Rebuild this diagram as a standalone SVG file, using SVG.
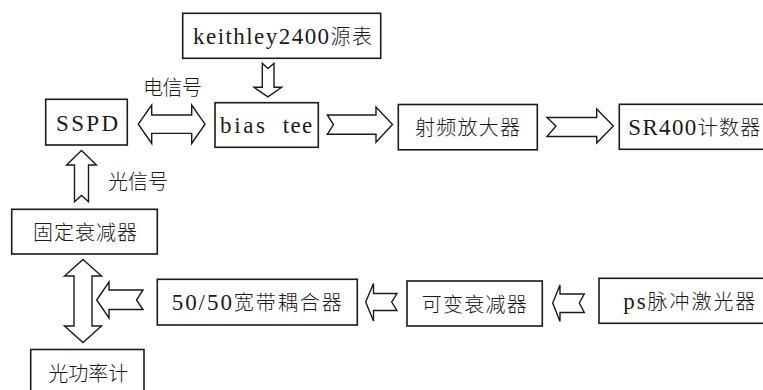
<svg xmlns="http://www.w3.org/2000/svg" width="763" height="390" viewBox="0 0 763 390">
<style>
.box{fill:#fff;stroke:#1a1a1a;stroke-width:1.6}
.arr{fill:#fff;stroke:#1a1a1a;stroke-width:1.4;stroke-linejoin:miter}
text{fill:#1a1a1a}
.lat{font-family:"Liberation Serif",serif;font-size:23px}
.cjk{font-family:"Noto Sans CJK SC","Noto Sans",sans-serif;font-size:20px;font-weight:300}
</style>
<rect width="763" height="390" fill="#fff"/>
<g id="connectors">
<polygon class="arr" points="138.3,124.2 151.7,105 151.7,115 191.7,115 191.7,105 205,124.2 191.7,143.4 191.7,133.4 151.7,133.4 151.7,143.4"/>
<polygon class="arr" points="262.3,63.3 268,68.5 274,63.3 274,87.3 281.7,87.3 267.9,96.9 254,87.3 262.3,87.3"/>
<polygon class="arr" points="327.3,115 376,115 376,107 392.5,124.6 376,142.3 376,134.3 327.3,134.3 333.5,124.6"/>
<polygon class="arr" points="547,117.5 596.7,117.5 596.7,109 613.3,126 596.7,143 596.7,136.5 547,136.5 556,126"/>
<polygon class="arr" points="81.5,150.5 96.5,165 88.5,165 88.5,201.7 81.5,195.5 74.5,201.7 74.5,165 66.5,165"/>
<polygon class="arr" points="83,259.5 101.5,276 92,276 92,326 101.5,326 83,342.5 64.5,326 74,326 74,276 64.5,276"/>
<polygon class="arr" points="96.7,300 109,282 109,290 143,290 136.5,300 143,309.5 109,309.5 109,318"/>
<polygon class="arr" points="365.7,302 373.5,283.5 373.5,293.5 397,293.5 391.7,302 397,310.5 373.5,310.5 373.5,321"/>
<polygon class="arr" points="552.7,303 560,285 560,294 584.3,294 579.3,303 584.3,312.5 560,312.5 560,321.5"/>
<text x="143" y="95" class="cjk" textLength="59" lengthAdjust="spacing">电信号</text>
<text x="108" y="189" class="cjk" textLength="60" lengthAdjust="spacing">光信号</text>
</g>
<g id="keithley">
<rect class="box" x="182.7" y="13.3" width="198" height="45"/>
<text x="193" y="43.5" textLength="179" lengthAdjust="spacing"><tspan class="lat">keithley2400</tspan><tspan class="cjk">源表</tspan></text>
</g>
<g id="sspd">
<rect class="box" x="45.7" y="99.3" width="81.6" height="45.7"/>
<text x="56" y="130.5" class="lat" textLength="62" lengthAdjust="spacing">SSPD</text>
</g>
<g id="biastee">
<rect class="box" x="215" y="102.7" width="103.3" height="44.6"/>
<text x="220" y="132.5" class="lat" textLength="45" lengthAdjust="spacing">bias</text>
<text x="282.7" y="132.5" class="lat" textLength="29.5" lengthAdjust="spacing">tee</text>
</g>
<g id="amp">
<rect class="box" x="398.3" y="104.5" width="139" height="45.3"/>
<text x="415" y="135" class="cjk" textLength="105" lengthAdjust="spacing">射频放大器</text>
</g>
<g id="sr400">
<rect class="box" x="619.3" y="104.3" width="150" height="45"/>
<text x="628.3" y="135" textLength="132" lengthAdjust="spacing"><tspan class="lat">SR400</tspan><tspan class="cjk">计数器</tspan></text>
</g>
<g id="fixedatt">
<rect class="box" x="11.7" y="209.3" width="145.6" height="44.7"/>
<text x="33" y="239.6" class="cjk" textLength="104" lengthAdjust="spacing">固定衰减器</text>
</g>
<g id="coupler">
<rect class="box" x="157.3" y="279.3" width="200" height="45.7"/>
<text x="171.7" y="310" textLength="170" lengthAdjust="spacing"><tspan class="lat">50/50</tspan><tspan class="cjk">宽带耦合器</tspan></text>
</g>
<g id="varatt">
<rect class="box" x="407" y="281" width="135.3" height="45"/>
<text x="421.7" y="311.5" class="cjk" textLength="105" lengthAdjust="spacing">可变衰减器</text>
</g>
<g id="laser">
<rect class="box" x="599" y="278.3" width="170" height="45"/>
<text x="623.3" y="308.8" textLength="132" lengthAdjust="spacing"><tspan class="lat">ps</tspan><tspan class="cjk">脉冲激光器</tspan></text>
</g>
<g id="powermeter">
<rect class="box" x="30.7" y="349.5" width="113.3" height="60"/>
<text x="48.3" y="381" class="cjk" textLength="80" lengthAdjust="spacing">光功率计</text>
</g>
</svg>
